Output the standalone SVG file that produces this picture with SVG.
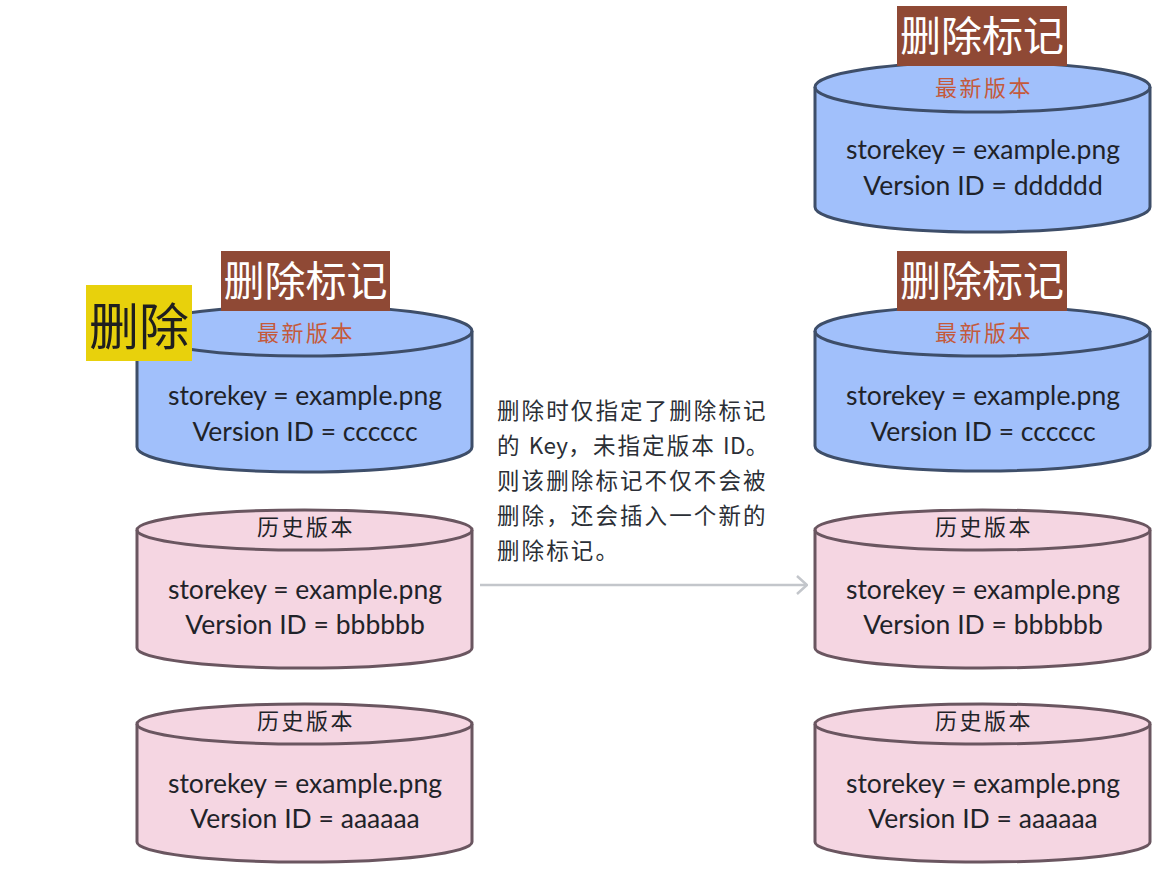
<svg xmlns="http://www.w3.org/2000/svg" width="1159" height="874" viewBox="0 0 1159 874">
<style>
.blue{fill:#a1c0fb;stroke:#3e4e69;stroke-width:3}
.pink{fill:#f5d6e2;stroke:#6a5660;stroke-width:3}
.lineb{fill:none;stroke:#3e4e69;stroke-width:3}
.linep{fill:none;stroke:#6a5660;stroke-width:3}
.t{font-family:Lato,"Noto Sans CJK SC",sans-serif;font-size:26.5px;fill:#1f2329;text-anchor:middle}
.ver{font-family:"Noto Sans CJK SC",sans-serif;font-size:22px;fill:#c45a3c;text-anchor:middle;letter-spacing:2.5px}
.his{font-family:"Noto Sans CJK SC",sans-serif;font-size:22px;fill:#1f2329;text-anchor:middle;letter-spacing:2.5px}
.mk{fill:#8f4935}
.mkt{font-family:"Noto Sans CJK SC",sans-serif;font-size:41px;fill:#ffffff;text-anchor:middle}
.para{font-family:"Noto Sans CJK SC",sans-serif;font-size:22.5px;fill:#2b2f36;letter-spacing:2.1px}
.lat{letter-spacing:0.3px}
</style>
<defs>
<marker id="arr" viewBox="0 0 12 20" refX="11" refY="10" markerWidth="12" markerHeight="20" markerUnits="userSpaceOnUse" orient="auto">
<path d="M1,1 L11,10 L1,19" fill="none" stroke="#c3c6cb" stroke-width="2.5"/>
</marker>
</defs>
<g id="connectors">
<line x1="480" y1="585" x2="807" y2="585" stroke="#c3c6cb" stroke-width="2.5" marker-end="url(#arr)"/>
</g>
<g id="left-latest">
<path class="blue" d="M137,331 A167.5,25 0 0 1 472,331 L472,447 A167.5,25 0 0 1 137,447 Z"/>
<path class="lineb" d="M137,331 A167.5,25 0 0 0 472,331"/>
<text class="ver" x="306" y="341">最新版本</text>
<text class="t" x="305" y="405">storekey = example.png</text>
<text class="t" x="305" y="441">Version ID = cccccc</text>
</g>
<g id="left-hist-b">
<path class="pink" d="M137,530 A167.5,20 0 0 1 472,530 L472,648 A167.5,20 0 0 1 137,648 Z"/>
<path class="linep" d="M137,530 A167.5,20 0 0 0 472,530"/>
<text class="his" x="306" y="535">历史版本</text>
<text class="t" x="305" y="599">storekey = example.png</text>
<text class="t" x="305" y="634">Version ID = bbbbbb</text>
</g>
<g id="left-hist-a">
<path class="pink" d="M137,724 A167.5,20 0 0 1 472,724 L472,842 A167.5,20 0 0 1 137,842 Z"/>
<path class="linep" d="M137,724 A167.5,20 0 0 0 472,724"/>
<text class="his" x="306" y="729">历史版本</text>
<text class="t" x="305" y="793">storekey = example.png</text>
<text class="t" x="305" y="828">Version ID = aaaaaa</text>
</g>
<g id="left-marker">
<rect class="mk" x="221" y="251" width="169" height="60"/>
<text class="mkt" x="305.5" y="296">删除标记</text>
</g>
<g id="delete-label">
<rect x="86" y="285" width="106" height="76" fill="#e8d10c"/>
<text x="139" y="345" font-family="'Noto Sans CJK SC',sans-serif" font-size="50" fill="#1f1f1f" text-anchor="middle">删除</text>
</g>
<g id="note">
<text class="para" x="497" y="419">删除时仅指定了删除标记</text>
<text class="para" x="497" y="454">的 <tspan class="lat">Key</tspan>，未指定版本 <tspan class="lat">ID</tspan>。</text>
<text class="para" x="497" y="489">则该删除标记不仅不会被</text>
<text class="para" x="497" y="524">删除，还会插入一个新的</text>
<text class="para" x="497" y="559">删除标记。</text>
</g>
<g id="right-latest-d">
<path class="blue" d="M815,87 A167.5,25 0 0 1 1150,87 L1150,207 A167.5,25 0 0 1 815,207 Z"/>
<path class="lineb" d="M815,87 A167.5,25 0 0 0 1150,87"/>
<text class="ver" x="984" y="96">最新版本</text>
<text class="t" x="983" y="159">storekey = example.png</text>
<text class="t" x="983" y="195">Version ID = dddddd</text>
</g>
<g id="right-marker-top">
<rect class="mk" x="897" y="6" width="170" height="60"/>
<text class="mkt" x="982" y="51">删除标记</text>
</g>
<g id="right-marker-c">
<path class="blue" d="M815,331 A167.5,25 0 0 1 1150,331 L1150,446 A167.5,25 0 0 1 815,446 Z"/>
<path class="lineb" d="M815,331 A167.5,25 0 0 0 1150,331"/>
<text class="ver" x="984" y="341">最新版本</text>
<text class="t" x="983" y="405">storekey = example.png</text>
<text class="t" x="983" y="441">Version ID = cccccc</text>
</g>
<g id="right-marker-c-label">
<rect class="mk" x="897" y="251" width="170" height="60"/>
<text class="mkt" x="982" y="296">删除标记</text>
</g>
<g id="right-hist-b">
<path class="pink" d="M815,530 A167.5,20 0 0 1 1150,530 L1150,648 A167.5,20 0 0 1 815,648 Z"/>
<path class="linep" d="M815,530 A167.5,20 0 0 0 1150,530"/>
<text class="his" x="984" y="535">历史版本</text>
<text class="t" x="983" y="599">storekey = example.png</text>
<text class="t" x="983" y="634">Version ID = bbbbbb</text>
</g>
<g id="right-hist-a">
<path class="pink" d="M815,724 A167.5,20 0 0 1 1150,724 L1150,842 A167.5,20 0 0 1 815,842 Z"/>
<path class="linep" d="M815,724 A167.5,20 0 0 0 1150,724"/>
<text class="his" x="984" y="729">历史版本</text>
<text class="t" x="983" y="793">storekey = example.png</text>
<text class="t" x="983" y="828">Version ID = aaaaaa</text>
</g>
</svg>
